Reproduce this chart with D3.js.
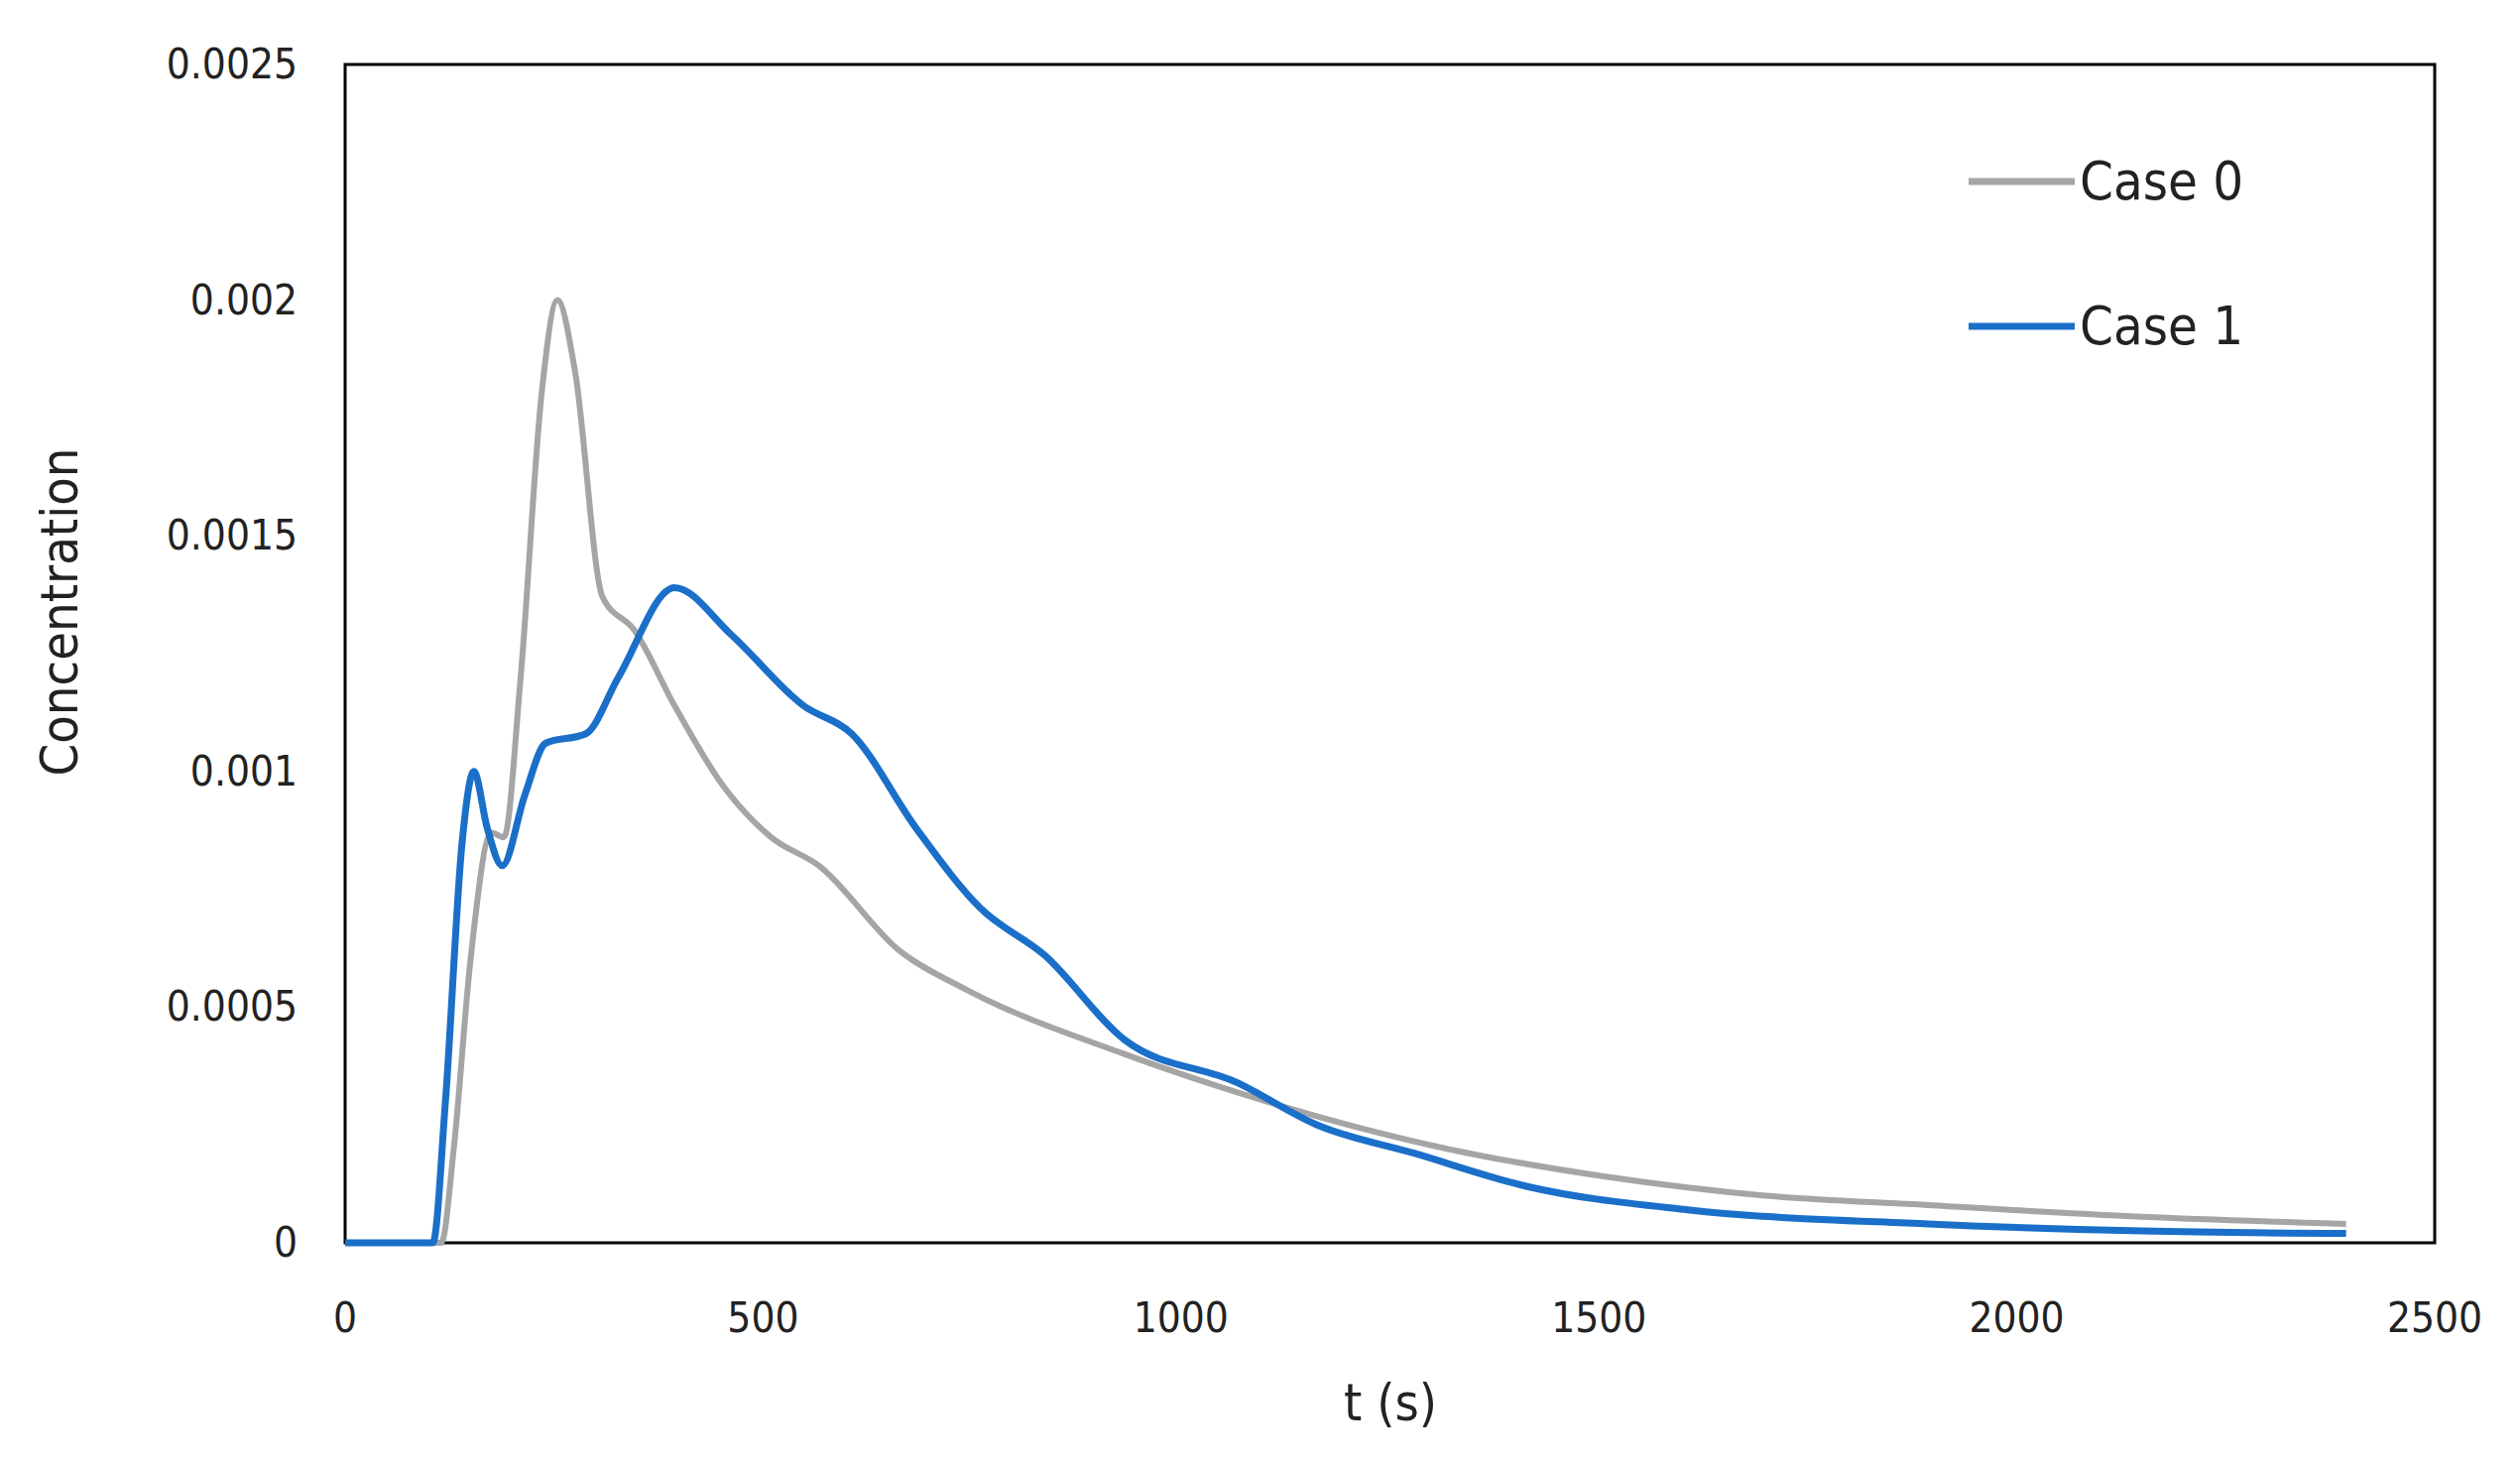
<!DOCTYPE html><html><head><meta charset="utf-8"><script src="https://d3js.org/d3.v7.min.js"></script>
<style>body{margin:0;background:#fff}</style></head><body><svg id="c" width="2541" height="1475"></svg><script>
const case0T=[0,100,115,130,150,175,190,210,235,254,275,308,346,394,452,510,567,663,740,933,1048,1317,1510,1700,1894,2150,2394];
const case0V=[0,0,0,0.0002,0.0006,0.00087,0.00086,0.0012,0.0018,0.002,0.00185,0.00137,0.0013,0.00114,0.00097,0.00086,0.0008,0.00062,0.00054,0.0004,0.00033,0.0002,0.00014,0.0001,0.00008,0.000055,0.00004];
const case1T=[0,105,120,140,154,170,188,215,240,288,327,394,462,548,606,683,760,837,933,1067,1163,1279,1413,1606,1894,2150,2394];
const case1V=[0,0,0.0003,0.00085,0.001,0.00088,0.0008,0.00095,0.00106,0.00108,0.0012,0.00139,0.00129,0.00114,0.00108,0.00088,0.00071,0.00061,0.00043,0.00034,0.00025,0.00019,0.00012,0.00007,0.00004,0.000025,0.00002];
const xTicks=[0,500,1000,1500,2000,2500];
const yTicks=[0,0.0005,0.001,0.0015,0.002,0.0025];
const yLabels=["0","0.0005","0.001","0.0015","0.002","0.0025"];
const svg=d3.select("#c");
const L=348,R=2455,T=65,B=1253;
const x=d3.scaleLinear().domain([0,2500]).range([L,R]);
const y=d3.scaleLinear().domain([0,0.0025]).range([B,T]);
const F="'Liberation Sans Narrow','DejaVu Sans Condensed',sans-serif";
svg.append("rect").attr("x",L).attr("y",T).attr("width",R-L).attr("height",B-T).attr("fill","none").attr("stroke","#000").attr("stroke-width",3);
svg.selectAll(".yt").data(yTicks).join("text").attr("x",L-48).attr("y",d=>y(d)+14).attr("text-anchor","end").attr("font-family",F).attr("font-size",42).attr("fill","#222").text((d,i)=>yLabels[i]);
svg.selectAll(".xt").data(xTicks).join("text").attr("x",d=>x(d)).attr("y",B+90).attr("text-anchor","middle").attr("font-family",F).attr("font-size",42).attr("fill","#222").text(d=>d);
svg.append("text").attr("x",1402).attr("y",1432).attr("text-anchor","middle").attr("font-family",F).attr("font-size",52).attr("fill","#222").text("t (s)");
svg.append("text").attr("transform","translate(78,617) rotate(-90)").attr("text-anchor","middle").attr("font-family",F).attr("font-size",52).attr("fill","#222").text("Concentration");
const line=d3.line().x(d=>x(d[0])).y(d=>y(d[1])).curve(d3.curveMonotoneX);
svg.append("path").attr("d",line(case0T.map((t,i)=>[t,case0V[i]]))).attr("fill","none").attr("stroke","#a5a5a5").attr("stroke-width",6);
svg.append("path").attr("d",line(case1T.map((t,i)=>[t,case1V[i]]))).attr("fill","none").attr("stroke","#1a6fc9").attr("stroke-width",7);
const leg=[["Case 0","#a5a5a5",183],["Case 1","#1a6fc9",329]];
leg.forEach(([n,c,yy])=>{svg.append("line").attr("x1",1985).attr("x2",2092).attr("y1",yy).attr("y2",yy).attr("stroke",c).attr("stroke-width",7);
svg.append("text").attr("x",2097).attr("y",yy+18).attr("font-family",F).attr("font-size",54).attr("fill","#222").text(n);});
</script></body></html>
